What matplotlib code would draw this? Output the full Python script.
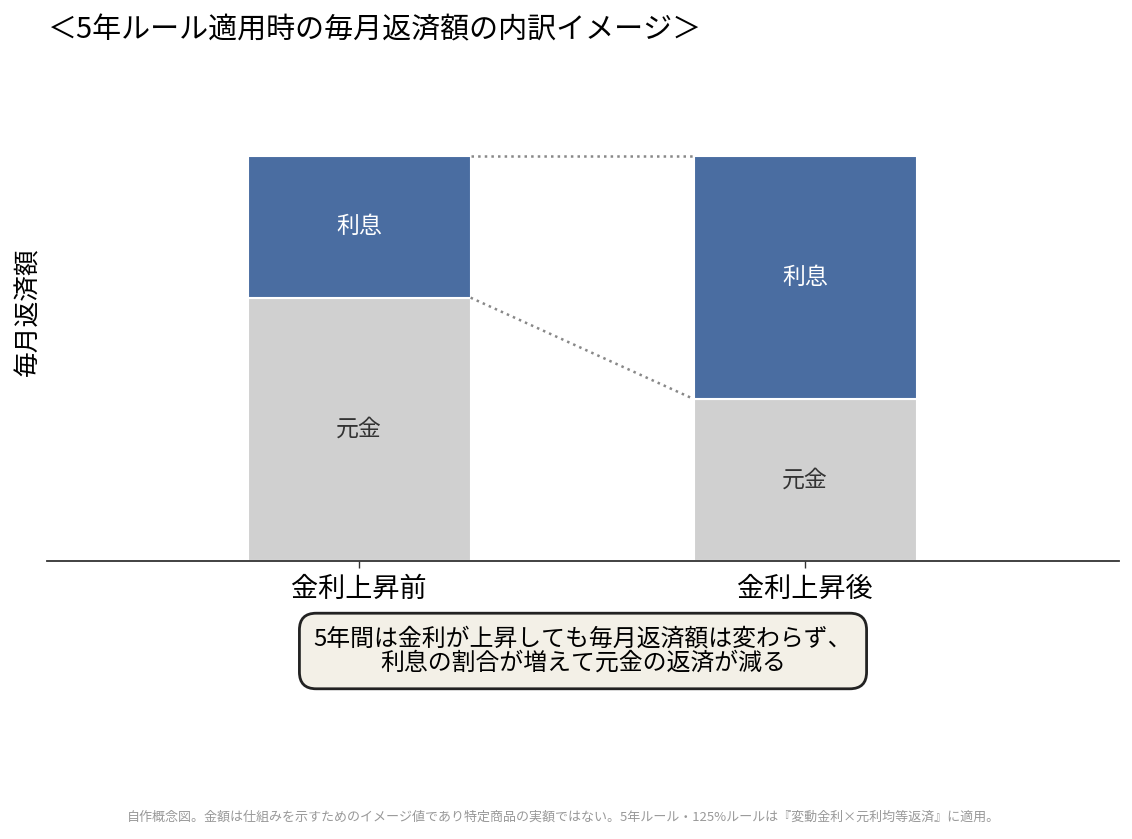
import matplotlib
matplotlib.use('Agg')
from matplotlib import pyplot as plt

plt.rcParams['font.family'] = ['Noto Sans CJK JP', 'DejaVu Sans']

categories = ['金利上昇前', '金利上昇後']
principal = [65, 40]
interest = [35, 60]
principal_label = '元金'
interest_label = '利息'

title = '＜5年ルール適用時の毎月返済額の内訳イメージ＞'
ylabel = '毎月返済額'
note = '5年間は金利が上昇しても毎月返済額は変わらず、\n利息の割合が増えて元金の返済が減る'
footnote = ('自作概念図。金額は仕組みを示すためのイメージ値であり特定商品の実額ではない。'
            '5年ルール・125%ルールは『変動金利×元利均等返済』に適用。')

blue = '#4a6da1'
gray = '#d0d0d0'
width = 0.5

fig = plt.figure(figsize=(11.32, 8.39), dpi=100)
ax = fig.add_axes([47 / 1132, 1 - 561 / 839, (1119 - 47) / 1132, 461 / 839])

x = list(range(len(categories)))
ax.bar(x, principal, width=width, color=gray, edgecolor='white', linewidth=1.5)
ax.bar(x, interest, width=width, bottom=principal, color=blue, edgecolor='white', linewidth=1.5)

for i in x:
    ax.text(i, principal[i] / 2, principal_label, ha='center', va='center',
            fontsize=16.5, color='#333333')
    ax.text(i, principal[i] + interest[i] / 2, interest_label, ha='center', va='center',
            fontsize=16.5, color='white')

# dotted guides between the bars
totals = [p + q for p, q in zip(principal, interest)]
ax.plot([x[0] + width / 2, x[1] - width / 2], [totals[0], totals[1]],
        ls=':', color='#888888', lw=1.8)
ax.plot([x[0] + width / 2, x[1] - width / 2], [principal[0], principal[1]],
        ls=':', color='#888888', lw=1.8)

ax.set_xlim(-0.7, 1.704)
ax.set_ylim(0, 113.8)
ax.set_xticks(x)
ax.set_xticklabels(categories, fontsize=19.5)
ax.tick_params(axis='x', length=5, width=1, color='#333333', pad=6)
ax.set_yticks([])
for s in ['top', 'right', 'left']:
    ax.spines[s].set_visible(False)
ax.spines['bottom'].set_color('#333333')
ax.spines['bottom'].set_linewidth(1.3)

fig.text(48 / 1132, 1 - 30 / 839, title, fontsize=20.9, ha='left', va='center')
fig.text(28 / 1132, 1 - 312 / 839, ylabel, fontsize=18.5, rotation=90, ha='center', va='center')

fig.text(583 / 1132, 1 - 651 / 839, note, fontsize=17.2, ha='center', va='center',
         multialignment='center', linespacing=1.05,
         bbox=dict(boxstyle='round,pad=0.6,rounding_size=0.7', facecolor='#f3f0e7',
                   edgecolor='#222222', linewidth=2))

fig.text(563 / 1132, 1 - 817 / 839, footnote, fontsize=9.4, color='#999999',
         ha='center', va='center')

fig.savefig('out.png', dpi=100)
